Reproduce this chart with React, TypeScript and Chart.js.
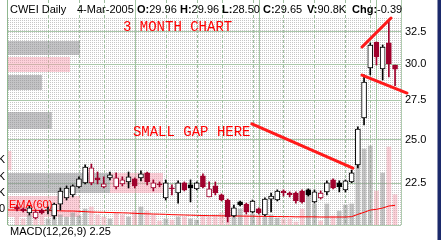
import React, { useEffect, useRef } from "react";
import { Chart, registerables } from "chart.js";
Chart.register(...registerables);

// ---------- data ----------
const PREV_CLOSE = 21.25;
const OPEN = [21.23, 21.13, 20.92, 20.67, 21.07, 21.05, 20.77, 21.38, 21.7, 21.86,
  22.29, 22.51, 22.51, 22.78, 22.29, 22.78, 22.29, 22.45, 22.56, 22.73,
  22.78, 23.06, 22.23, 22.45, 21.7, 22.23, 21.96, 22.51, 22.4, 22.18,
  22.89, 21.75, 22.34, 21.86, 21.59, 20.77, 21.49, 21.38, 20.97, 21.13,
  20.82, 21.64, 21.59, 22.07, 21.96, 21.96, 22.07, 22.13, 21.49, 21.7,
  22.02, 22.67, 22.51, 22.13, 22.56, 23.51, 26.35, 29.75, 31.68, 29.67,
  31.61, 29.96];
const HIGH = [21.33, 21.18, 21.28, 21.07, 21.13, 21.23, 21.43, 22.23, 22.34, 22.4,
  22.84, 23.51, 23.56, 23.11, 22.84, 23.11, 23.06, 22.84, 23.11, 22.78,
  23.17, 23.11, 22.67, 22.56, 22.67, 22.4, 22.62, 22.56, 22.67, 22.56,
  23.0, 22.56, 22.56, 21.91, 21.64, 21.33, 21.54, 21.43, 21.59, 21.18,
  21.7, 21.96, 22.13, 22.13, 22.02, 22.02, 22.13, 22.18, 22.13, 22.07,
  22.62, 22.73, 22.62, 22.67, 23.22, 25.78, 29.25, 31.61, 31.68, 31.45,
  33.42, 29.96];
const LOW = [21.02, 20.97, 20.82, 20.62, 20.87, 20.87, 20.62, 21.07, 21.59, 21.75,
  22.23, 22.45, 22.4, 22.45, 22.23, 22.67, 22.18, 22.34, 22.23, 22.23,
  22.62, 22.4, 22.07, 22.29, 21.59, 21.86, 21.43, 22.07, 21.49, 22.13,
  22.23, 21.75, 21.86, 21.54, 20.47, 20.72, 21.28, 20.87, 20.92, 20.87,
  20.77, 20.97, 21.54, 21.8, 21.75, 21.43, 21.43, 21.8, 21.43, 21.64,
  21.86, 22.18, 22.02, 22.02, 22.51, 23.34, 25.9, 29.25, 29.96, 28.89,
  29.1, 28.5];
const CLOSE = [21.13, 21.02, 21.18, 20.97, 20.92, 21.07, 21.38, 22.07, 22.23, 22.34,
  22.73, 23.39, 23.34, 22.67, 22.45, 22.95, 22.78, 22.67, 22.84, 22.34,
  23.0, 22.56, 22.51, 22.4, 22.51, 22.18, 22.51, 22.13, 22.23, 22.51,
  22.29, 22.18, 21.96, 21.59, 20.72, 21.18, 21.33, 20.97, 21.54, 20.92,
  21.64, 21.8, 22.07, 21.96, 21.86, 21.54, 21.49, 21.86, 22.02, 21.96,
  22.51, 22.23, 22.29, 22.62, 23.06, 25.65, 28.75, 31.45, 30.55, 31.3,
  30.04, 29.65];
// volume, thousands of shares
const VOLUME = [24, 18, 30, 36, 24, 18, 42, 30, 24, 36,
  27, 48, 54, 30, 24, 18, 36, 30, 24, 42,
  54, 42, 30, 12, 18, 15, 24, 24, 18, 15,
  27, 24, 30, 36, 48, 42, 48, 30, 33, 27,
  24, 30, 21, 18, 18, 9, 48, 108, 63, 12,
  63, 27, 42, 60, 63, 237, 228, 237, 102, 156,
  234, 91];
// EMA(60) of volume, starting two sessions before the first candle
const EMA_START = -2;
const EMA60 = [45.5, 45,
  45, 44.5, 44, 44, 43.5, 43, 43, 42.5, 42, 42,
  41, 40, 39, 38.5, 38, 37.5, 37, 36.5, 36, 35,
  34, 33.5, 33, 32.5, 32, 31, 30.5, 30, 29.5, 29,
  28.5, 28, 28, 27.5, 27.5, 27, 27, 26.5, 26.5, 26,
  26, 25.5, 25.5, 25, 25, 24.5, 24.5, 24.5, 24.5, 24,
  24, 24, 24, 24, 25, 32, 38, 45, 47, 51,
  57, 59];
const Y_TICKS = [22.5, 25, 27.5, 30, 32.5];
const WEEK_LINES = [5, 10, 14, 24, 29, 33, 38, 43, 48, 53, 57];
const MONTH_LINES = [19, 39, 58];
// volume by price bands
const VBP_LO = [30.7, 29.46, 28.21, 26.95, 25.67, 24.45, 23.2, 21.95, 20.7];
const VBP_HI = [31.76, 30.55, 29.25, 28.05, 26.76, 25.55, 24.3, 23.05, 21.8];
const VBP_UP = [421, 0, 199, 0, 257, 0, 0, 597, 0];
const VBP_DOWN = [0, 363, 0, 0, 0, 0, 20, 310, 421];

const HEADER_TITLE = "CWEI Daily";
const HEADER_DATE = "4-Mar-2005";
const HEADER_LABELS = ["O:", "H:", "L:", "C:", "V:", "Chg:"];
const HEADER_VALUES = ["29.96", "29.96", "28.50", "29.65", "90.8K", "-0.39"];
const NOTE_TEXTS = ["3 MONTH CHART", "SMALL GAP HERE"];
const NOTE_TEXT_AT = [[17.1, 32.54], [18.7, 25.22]];
const NOTE_LINES = [
  [[37.9, 25.97], [54.2, 23.33]],
  [[55.67, 31.3], [60.35, 33.58]],
  [[55.67, 29.24], [62.93, 27.99]],
];
const EMA_LABEL = "EMA(60)";
const MACD_LABEL = "MACD(12,26,9) 2.25";
const VOL_AXIS_LABELS = ["150K", "100K", "50K", "0"];

// ---------- styles ----------
const RED = "#a0002c";
const BLACK = "#000000";
const SANS = '"Liberation Sans", Arial, sans-serif';
const MONO = '"Liberation Mono", "Courier New", monospace';

const decor = {
  id: "decor",
  beforeDraw(chart: any) {
    const { ctx, chartArea: a, width, height } = chart;
    ctx.save();
    ctx.fillStyle = "#ffffff";
    ctx.fillRect(0, 0, width, height);
    const pc = document.createElement("canvas");
    pc.width = 2;
    pc.height = 2;
    const p = pc.getContext("2d")!;
    p.fillStyle = "#c6c6c6";
    p.fillRect(0, 0, 1, 1);
    ctx.fillStyle = ctx.createPattern(pc, "repeat");
    ctx.fillRect(a.left, a.top, a.right - a.left, a.bottom - a.top);
    ctx.restore();
  },
  beforeDatasetsDraw(chart: any) {
    const { ctx, chartArea: a } = chart;
    const x = chart.scales.x;
    const y = chart.scales.y;
    const v = chart.scales.vbp;
    ctx.save();
    ctx.lineWidth = 1;
    WEEK_LINES.forEach((i) => {
      const px = Math.round(x.getPixelForValue(i)) + 0.5;
      ctx.strokeStyle = "#9fbf9f";
      ctx.setLineDash([3, 2]);
      ctx.beginPath();
      ctx.moveTo(px, 0);
      ctx.lineTo(px, a.bottom);
      ctx.stroke();
    });
    MONTH_LINES.forEach((i) => {
      const px = Math.round(x.getPixelForValue(i)) + 0.5;
      ctx.strokeStyle = "#a2c6a2";
      ctx.setLineDash([]);
      ctx.beginPath();
      ctx.moveTo(px, 0);
      ctx.lineTo(px, a.bottom);
      ctx.stroke();
    });
    ctx.setLineDash([]);
    VBP_LO.forEach((lo, k) => {
      const yt = Math.round(y.getPixelForValue(VBP_HI[k]));
      const yb = Math.round(y.getPixelForValue(lo));
      const x0 = v.getPixelForValue(0);
      const x1 = v.getPixelForValue(VBP_UP[k]);
      const x2 = v.getPixelForValue(VBP_UP[k] + VBP_DOWN[k]);
      ctx.fillStyle = "rgba(135,135,140,0.5)";
      ctx.fillRect(x0, yt, x1 - x0, yb - yt);
      ctx.fillStyle = "rgba(250,150,170,0.45)";
      ctx.fillRect(x1, yt, x2 - x1, yb - yt);
    });
    ctx.restore();
  },
  afterDraw(chart: any) {
    const { ctx, chartArea: a, width, height } = chart;
    const x = chart.scales.x;
    const y = chart.scales.y;
    ctx.save();
    // bottom strip
    ctx.fillStyle = "#ffffff";
    ctx.fillRect(0, a.bottom, a.right, height - a.bottom);
    // borders
    ctx.strokeStyle = "#8fb88f";
    ctx.lineWidth = 1;
    ctx.beginPath();
    ctx.moveTo(a.left - 0.5, 0);
    ctx.lineTo(a.left - 0.5, a.bottom);
    ctx.stroke();
    ctx.strokeStyle = "#b0ccb0";
    ctx.beginPath();
    ctx.moveTo(a.right + 0.5, 0);
    ctx.lineTo(a.right + 0.5, a.bottom);
    ctx.moveTo(a.left, a.bottom + 0.5);
    ctx.lineTo(a.right, a.bottom + 0.5);
    ctx.stroke();
    // header
    ctx.fillStyle = "#000";
    ctx.textBaseline = "alphabetic";
    ctx.font = "11px " + SANS;
    ctx.fillText(HEADER_TITLE, 10, 13);
    ctx.fillText(HEADER_DATE, 77, 13);
    const hx = [137, 180, 222, 263, 307, 352];
    HEADER_LABELS.forEach((lab, k) => {
      ctx.font = "bold 11px " + SANS;
      ctx.fillText(lab, hx[k], 13);
      const w = ctx.measureText(lab).width;
      ctx.font = "11px " + SANS;
      ctx.fillText(HEADER_VALUES[k], hx[k] + w, 13);
    });
    // volume axis leftovers (cut off on the left)
    ctx.font = "11px " + SANS;
    ctx.textAlign = "right";
    const vy = [163, 180, 196, 212];
    VOL_AXIS_LABELS.forEach((t, k) => ctx.fillText(t, 5, vy[k]));
    ctx.textAlign = "left";
    // EMA label
    ctx.fillStyle = "#ff0000";
    ctx.font = "11px " + SANS;
    ctx.fillText(EMA_LABEL, 9, 208);
    // MACD label
    ctx.fillStyle = "#000";
    ctx.font = "11px " + SANS;
    ctx.fillText(MACD_LABEL, 10, 235);
    // notes
    ctx.fillStyle = "#ff0000";
    ctx.font = "14px " + MONO;
    NOTE_TEXTS.forEach((t, k) => {
      ctx.fillText(t, x.getPixelForValue(NOTE_TEXT_AT[k][0]), y.getPixelForValue(NOTE_TEXT_AT[k][1]));
    });
    ctx.strokeStyle = "#ff1a1a";
    ctx.lineWidth = 3;
    ctx.lineCap = "round";
    NOTE_LINES.forEach((l) => {
      ctx.beginPath();
      ctx.moveTo(x.getPixelForValue(l[0][0]), y.getPixelForValue(l[0][1]));
      ctx.lineTo(x.getPixelForValue(l[1][0]), y.getPixelForValue(l[1][1]));
      ctx.stroke();
    });
    // right frame bar
    ctx.fillStyle = "#8a90b0";
    ctx.fillRect(width - 4, 0, 1, height);
    ctx.fillStyle = "#1b2a6b";
    ctx.fillRect(width - 3, 0, 3, height);
    ctx.restore();
  },
};

export default function App() {
  const ref = useRef<HTMLCanvasElement>(null);
  useEffect(() => {
    const idx = CLOSE.map((_, i) => i);
    const up = CLOSE.map((c, i) => c >= (i === 0 ? PREV_CLOSE : CLOSE[i - 1]));
    const col = up.map((u) => (u ? BLACK : RED));
    const filled = CLOSE.map((c, i) => c < OPEN[i]);
    const chart = new Chart(ref.current!, {
      type: "bar",
      data: {
        datasets: [
          {
            type: "bar",
            data: idx.map((i) => ({ x: i, y: [OPEN[i], CLOSE[i]] })),
            backgroundColor: idx.map((i) => (filled[i] ? col[i] : "#ffffff")),
            borderColor: col,
            borderWidth: 1,
            borderSkipped: false,
            barThickness: 5,
            minBarLength: 1,
            grouped: false,
            order: 1,
            yAxisID: "y",
          } as any,
          {
            type: "bar",
            data: idx.map((i) => ({ x: i, y: [LOW[i], HIGH[i]] })),
            backgroundColor: col,
            barThickness: 1,
            grouped: false,
            order: 2,
            yAxisID: "y",
          } as any,
          {
            type: "line",
            data: EMA60.map((e, k) => ({ x: EMA_START + k, y: e })),
            borderColor: "#ff0000",
            borderWidth: 1,
            pointRadius: 0,
            tension: 0,
            order: 3,
            yAxisID: "vol",
          } as any,
          {
            type: "bar",
            data: idx.map((i) => ({ x: i, y: VOLUME[i] })),
            backgroundColor: up.map((u) => (u ? "rgba(150,150,150,0.55)" : "rgba(245,160,175,0.5)")),
            barThickness: 4,
            grouped: false,
            order: 4,
            yAxisID: "vol",
          } as any,
        ],
      },
      options: {
        animation: false,
        responsive: false,
        devicePixelRatio: 1,
        layout: { padding: { left: 8, top: 18, right: 0, bottom: 15 } },
        plugins: { legend: { display: false }, tooltip: { enabled: false } },
        scales: {
          x: { type: "linear", min: -1.45, max: 61.96, display: false, offset: false },
          vbp: { type: "linear", axis: "x", position: "bottom", min: 0, max: 2300, display: false, offset: false },
          vol: { type: "linear", min: 0, max: 621, display: false },
          y: {
            type: "logarithmic",
            position: "right",
            min: 20.32,
            max: 33.58,
            afterBuildTicks: (s: any) => {
              s.ticks = Y_TICKS.map((v) => ({ value: v }));
            },
            afterFit: (s: any) => {
              s.width = 40;
            },
            grid: { color: "#aac8aa", drawTicks: false, lineWidth: 1 },
            border: { display: false },
            ticks: {
              autoSkip: false,
              padding: 4,
              color: "#000",
              font: { family: SANS, size: 11 },
              callback: (v: any) => Number(v).toFixed(1),
            },
          } as any,
        },
      } as any,
      plugins: [decor],
    });
    return () => chart.destroy();
  }, []);
  return (
    <div style={{ position: "absolute", left: 0, top: 0, width: 441, height: 240 }}>
      <canvas ref={ref} width={441} height={240} style={{ width: 441, height: 240 }} />
    </div>
  );
}
